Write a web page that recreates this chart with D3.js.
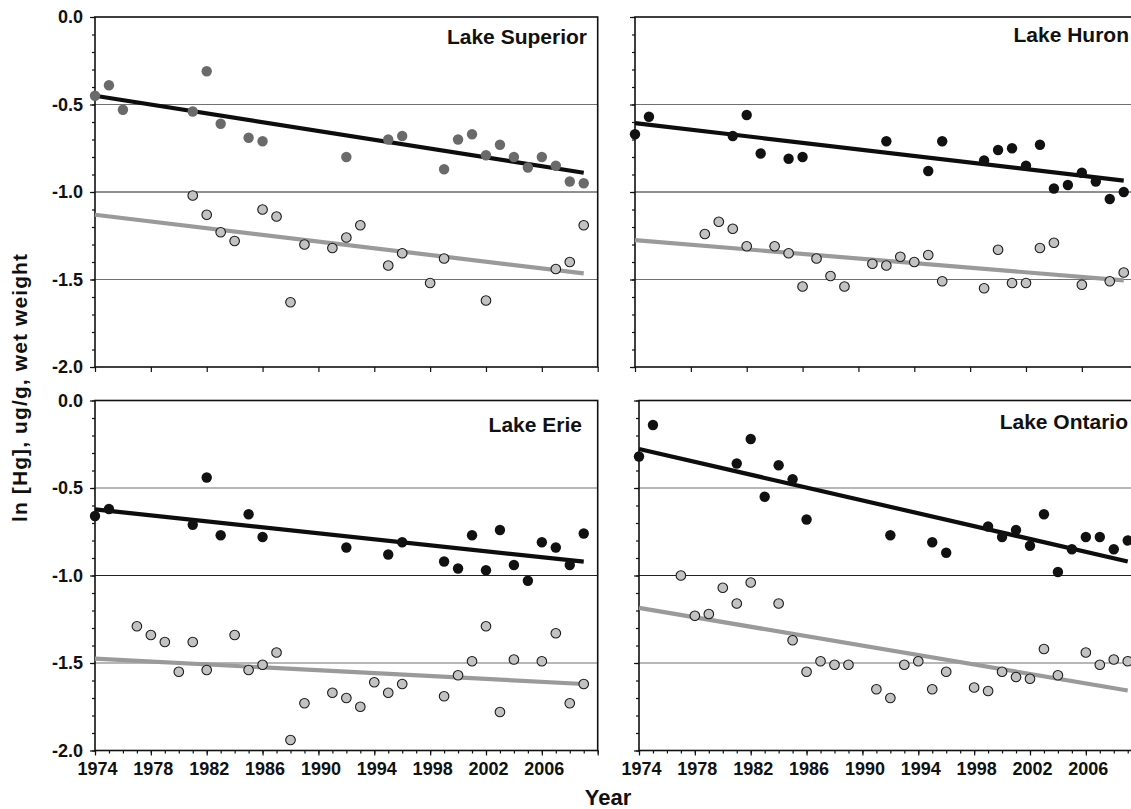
<!DOCTYPE html>
<html>
<head>
<meta charset="utf-8">
<script src="https://cdn.jsdelivr.net/npm/d3@7"></script>
<style>
  body { margin: 0; background: #fff; }
  svg text { font-family: "Liberation Sans", Arial, Helvetica, sans-serif; font-weight: bold; fill: #111; }
</style>
</head>
<body>
<div id="chart"></div>
<script>
// tick labels
const xLabelYears = [1974, 1978, 1982, 1986, 1990, 1994, 1998, 2002, 2006];
const yTickValues = [0, -0.5, -1.0, -1.5, -2.0];
const gridValues = [-0.5, -1.0, -1.5];
const trendYears = [1974, 2009];

// Lake Superior
const superiorDarkYears = [1974, 1975, 1976, 1981, 1982, 1983, 1985, 1986, 1992, 1995, 1996, 1999, 2000, 2001, 2002, 2003, 2004, 2005, 2006, 2007, 2008, 2009];
const superiorDark = [-0.45, -0.39, -0.53, -0.54, -0.31, -0.61, -0.69, -0.71, -0.80, -0.70, -0.68, -0.87, -0.70, -0.67, -0.79, -0.73, -0.80, -0.86, -0.80, -0.85, -0.94, -0.95];
const superiorLightYears = [1981, 1982, 1983, 1984, 1986, 1987, 1988, 1989, 1991, 1992, 1993, 1995, 1996, 1998, 1999, 2002, 2007, 2008, 2009];
const superiorLight = [-1.02, -1.13, -1.23, -1.28, -1.10, -1.14, -1.63, -1.30, -1.32, -1.26, -1.19, -1.42, -1.35, -1.52, -1.38, -1.62, -1.44, -1.40, -1.19];
const superiorDarkTrend = [-0.45, -0.89];
const superiorLightTrend = [-1.13, -1.465];

// Lake Huron
const huronDarkYears = [1974, 1975, 1981, 1982, 1983, 1985, 1986, 1992, 1995, 1996, 1999, 2000, 2001, 2002, 2003, 2004, 2005, 2006, 2007, 2008, 2009];
const huronDark = [-0.67, -0.57, -0.68, -0.56, -0.78, -0.81, -0.80, -0.71, -0.88, -0.71, -0.82, -0.76, -0.75, -0.85, -0.73, -0.98, -0.96, -0.89, -0.94, -1.04, -1.00];
const huronLightYears = [1979, 1980, 1981, 1982, 1984, 1985, 1986, 1987, 1988, 1989, 1991, 1992, 1993, 1994, 1995, 1996, 1999, 2000, 2001, 2002, 2003, 2004, 2006, 2008, 2009];
const huronLight = [-1.24, -1.17, -1.21, -1.31, -1.31, -1.35, -1.54, -1.38, -1.48, -1.54, -1.41, -1.42, -1.37, -1.40, -1.36, -1.51, -1.55, -1.33, -1.52, -1.52, -1.32, -1.29, -1.53, -1.51, -1.46];
const huronDarkTrend = [-0.606, -0.935];
const huronLightTrend = [-1.275, -1.505];

// Lake Erie
const erieDarkYears = [1974, 1975, 1981, 1982, 1983, 1985, 1986, 1992, 1995, 1996, 1999, 2000, 2001, 2002, 2003, 2004, 2005, 2006, 2007, 2008, 2009];
const erieDark = [-0.66, -0.62, -0.71, -0.44, -0.77, -0.65, -0.78, -0.84, -0.88, -0.81, -0.92, -0.96, -0.77, -0.97, -0.74, -0.94, -1.03, -0.81, -0.84, -0.94, -0.76];
const erieLightYears = [1977, 1978, 1979, 1980, 1981, 1982, 1984, 1985, 1986, 1987, 1988, 1989, 1991, 1992, 1993, 1994, 1995, 1996, 1999, 2000, 2001, 2002, 2003, 2004, 2006, 2007, 2008, 2009];
const erieLight = [-1.29, -1.34, -1.38, -1.55, -1.38, -1.54, -1.34, -1.54, -1.51, -1.44, -1.94, -1.73, -1.67, -1.70, -1.75, -1.61, -1.67, -1.62, -1.69, -1.57, -1.49, -1.29, -1.78, -1.48, -1.49, -1.33, -1.73, -1.62];
const erieDarkTrend = [-0.622, -0.921];
const erieLightTrend = [-1.475, -1.62];

// Lake Ontario
const ontarioDarkYears = [1974, 1975, 1981, 1982, 1983, 1984, 1985, 1986, 1992, 1995, 1996, 1999, 2000, 2001, 2002, 2003, 2004, 2005, 2006, 2007, 2008, 2009];
const ontarioDark = [-0.32, -0.14, -0.36, -0.22, -0.55, -0.37, -0.45, -0.68, -0.77, -0.81, -0.87, -0.72, -0.78, -0.74, -0.83, -0.65, -0.98, -0.85, -0.78, -0.78, -0.85, -0.80];
const ontarioLightYears = [1977, 1978, 1979, 1980, 1981, 1982, 1984, 1985, 1986, 1987, 1988, 1989, 1991, 1992, 1993, 1994, 1995, 1996, 1998, 1999, 2000, 2001, 2002, 2003, 2004, 2006, 2007, 2008, 2009];
const ontarioLight = [-1.00, -1.23, -1.22, -1.07, -1.16, -1.04, -1.16, -1.37, -1.55, -1.49, -1.51, -1.51, -1.65, -1.70, -1.51, -1.49, -1.65, -1.55, -1.64, -1.66, -1.55, -1.58, -1.59, -1.42, -1.57, -1.44, -1.51, -1.48, -1.49];
const ontarioDarkTrend = [-0.277, -0.92];
const ontarioLightTrend = [-1.185, -1.657];

const zip = (xs, ys) => xs.map((x, i) => ({ year: x, value: ys[i] }));

const panels = [
    { name: "Lake Superior", left: 95, top: 17, yLabels: true, xLabels: false, labelX: 587, labelY: 44,
      darkFill: "#6a6a6a",
      dark: zip(superiorDarkYears, superiorDark), light: zip(superiorLightYears, superiorLight),
      darkTrend: zip(trendYears, superiorDarkTrend), lightTrend: zip(trendYears, superiorLightTrend) },
    { name: "Lake Huron", left: 635, top: 17, yLabels: false, xLabels: false, labelX: 1129, labelY: 42,
      darkFill: "#111",
      dark: zip(huronDarkYears, huronDark), light: zip(huronLightYears, huronLight),
      darkTrend: zip(trendYears, huronDarkTrend), lightTrend: zip(trendYears, huronLightTrend) },
    { name: "Lake Erie", left: 95, top: 400.5, yLabels: true, xLabels: true, labelX: 582, labelY: 432,
      darkFill: "#111",
      dark: zip(erieDarkYears, erieDark), light: zip(erieLightYears, erieLight),
      darkTrend: zip(trendYears, erieDarkTrend), lightTrend: zip(trendYears, erieLightTrend) },
    { name: "Lake Ontario", left: 639, top: 400.5, yLabels: false, xLabels: true, labelX: 1128, labelY: 429,
      darkFill: "#111",
      dark: zip(ontarioDarkYears, ontarioDark), light: zip(ontarioLightYears, ontarioLight),
      darkTrend: zip(trendYears, ontarioDarkTrend), lightTrend: zip(trendYears, ontarioLightTrend) }
];

const panelW = 502.7;
const panelH = 350;

const svg = d3.select("#chart")
    .append("svg")
    .attr("width", 1131)
    .attr("height", 809);

panels.forEach(p => {
    const x = d3.scaleLinear().domain([1974, 2010]).range([p.left, p.left + panelW]);
    const y = d3.scaleLinear().domain([-2, 0]).range([p.top + panelH, p.top]);
    const g = svg.append("g");

    // horizontal reference lines
    g.selectAll("line.grid")
        .data(gridValues)
        .enter()
        .append("line")
        .attr("x1", x(1974))
        .attr("x2", x(2010))
        .attr("y1", d => y(d))
        .attr("y2", d => y(d))
        .attr("stroke", d => d === -1 ? "#222" : "#707070")
        .attr("stroke-width", 1.2);

    // minor y ticks
    const minorY = d3.range(0, 21).map(i => -i / 10);
    g.append("g")
        .attr("transform", `translate(${x(1974)},0)`)
        .call(d3.axisLeft(y).tickValues(minorY).tickSize(3).tickFormat(""))
        .call(a => a.select(".domain").remove())
        .selectAll("line").attr("stroke", "#111").attr("stroke-width", 1.2);

    // major y ticks
    const yAxis = g.append("g")
        .attr("transform", `translate(${x(1974)},0)`)
        .call(d3.axisLeft(y).tickValues(yTickValues).tickSize(5).tickPadding(7)
            .tickFormat(d => p.yLabels ? d.toFixed(1) : ""));
    yAxis.select(".domain").remove();
    yAxis.selectAll("line").attr("stroke", "#111").attr("stroke-width", 1.2);
    yAxis.selectAll("text").style("font-size", "18px").attr("fill", "#111");

    // x ticks
    const bottom = y(-2);
    if (p.xLabels) {
        g.append("g")
            .attr("transform", `translate(0,${bottom})`)
            .call(d3.axisBottom(x).tickValues(d3.range(1974, 2011)).tickSize(3).tickFormat(""))
            .call(a => a.select(".domain").remove())
            .selectAll("line").attr("stroke", "#111").attr("stroke-width", 1.2);
    }
    const xAxis = g.append("g")
        .attr("transform", `translate(0,${bottom})`)
        .call(d3.axisBottom(x).tickValues(d3.range(1974, 2011, 4)).tickSize(5).tickPadding(7)
            .tickFormat(d => p.xLabels && xLabelYears.includes(d) ? d : ""));
    xAxis.select(".domain").remove();
    xAxis.selectAll("line").attr("stroke", "#111").attr("stroke-width", 1.2);
    xAxis.selectAll("text").style("font-size", "18px").attr("fill", "#111").attr("dx", 2);

    // frame
    g.append("rect")
        .attr("x", x(1974))
        .attr("y", y(0))
        .attr("width", panelW)
        .attr("height", panelH)
        .attr("fill", "none")
        .attr("stroke", "#111")
        .attr("stroke-width", 1.6);

    const line = d3.line()
        .x(d => x(d.year))
        .y(d => y(d.value));

    // trend lines
    g.append("path")
        .datum(p.lightTrend)
        .attr("fill", "none")
        .attr("stroke", "#9a9a9a")
        .attr("stroke-width", 4.2)
        .attr("d", line);

    g.append("path")
        .datum(p.darkTrend)
        .attr("fill", "none")
        .attr("stroke", "#0d0d0d")
        .attr("stroke-width", 4.2)
        .attr("d", line);

    // points
    g.selectAll("circle.light")
        .data(p.light)
        .enter()
        .append("circle")
        .attr("cx", d => x(d.year))
        .attr("cy", d => y(d.value))
        .attr("r", 4.8)
        .attr("fill", "#c2c2c2")
        .attr("stroke", "#1a1a1a")
        .attr("stroke-width", 1.1);

    g.selectAll("circle.dark")
        .data(p.dark)
        .enter()
        .append("circle")
        .attr("cx", d => x(d.year))
        .attr("cy", d => y(d.value))
        .attr("r", 5.2)
        .attr("fill", p.darkFill);

    // lake name
    g.append("text")
        .attr("x", p.labelX)
        .attr("y", p.labelY)
        .attr("text-anchor", "end")
        .style("font-size", "21px")
        .text(p.name);
});

// axis titles
svg.append("text")
    .attr("transform", "translate(27,388) rotate(-90)")
    .attr("text-anchor", "middle")
    .style("font-size", "21px")
    .attr("textLength", 268)
    .attr("lengthAdjust", "spacing")
    .text("ln [Hg], ug/g, wet weight");

svg.append("text")
    .attr("x", 608)
    .attr("y", 805)
    .attr("text-anchor", "middle")
    .style("font-size", "22px")
    .text("Year");
</script>
</body>
</html>
